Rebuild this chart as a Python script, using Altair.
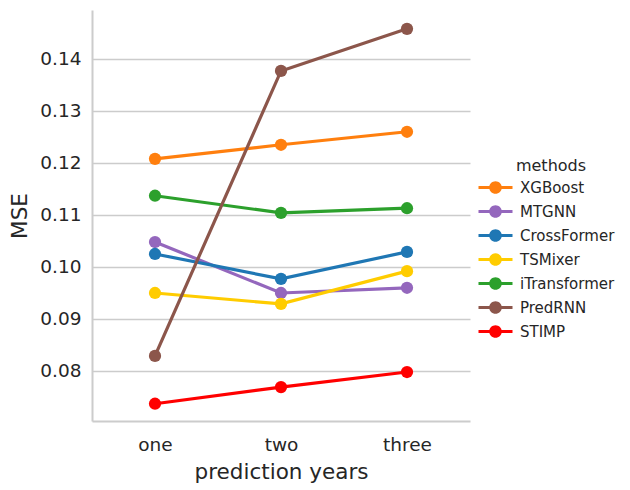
import altair as alt
import pandas as pd

years = ["one", "two", "three"]
methods = ["XGBoost", "MTGNN", "CrossFormer", "TSMixer", "iTransformer", "PredRNN", "STIMP"]
colors = ["#ff7f0e", "#9467bd", "#1f77b4", "#ffcc00", "#2ca02c", "#8c564b", "#ff0000"]

xgboost = [0.1208, 0.1235, 0.1260]
mtgnn = [0.1048, 0.0950, 0.0960]
crossformer = [0.1025, 0.0977, 0.1029]
tsmixer = [0.0950, 0.0929, 0.0992]
itransformer = [0.1137, 0.1104, 0.1113]
predrnn = [0.0829, 0.1377, 0.1458]
stimp = [0.0737, 0.0769, 0.0798]

y_ticks = [0.08, 0.09, 0.10, 0.11, 0.12, 0.13, 0.14]
y_domain = [0.07038, 0.14942]

series = [xgboost, mtgnn, crossformer, tsmixer, itransformer, predrnn, stimp]
rows = []
for m, vals in zip(methods, series):
    for yr, v in zip(years, vals):
        rows.append({"year": yr, "method": m, "mse": v})
df = pd.DataFrame(rows)

FONT = "DejaVu Sans"
TXT = "#262626"
GRID = "#cccccc"

sym_path = ("M-3.4,-0.32L3.4,-0.32L3.4,0.32L-3.4,0.32Z "
            "M-1.26,0A1.26,1.26,0,1,1,1.26,0A1.26,1.26,0,1,1,-1.26,0Z")

legend = alt.Legend(
    title="methods", orient="none", legendX=396, legendY=148,
    symbolType=sym_path, symbolSize=100, symbolStrokeWidth=0, symbolOpacity=1,
    labelFont=FONT, labelFontSize=15, labelColor=TXT, labelOffset=17,
    titleFont=FONT, titleFontSize=16, titleFontWeight="normal", titleColor=TXT,
    titleAnchor="middle", titlePadding=6, rowPadding=8, padding=0,
)

base = alt.Chart(df).encode(
    x=alt.X("year:N", sort=years, scale=alt.Scale(type="point", padding=0.5),
            axis=alt.Axis(title="prediction years", labelAngle=0, ticks=False, grid=False,
                          domainColor=GRID, domainWidth=2, labelPadding=14,
                          labelFont=FONT, labelFontSize=18.5, labelColor=TXT,
                          titleFont=FONT, titleFontSize=21.5, titleFontWeight="normal",
                          titleColor=TXT, titlePadding=8)),
    y=alt.Y("mse:Q", scale=alt.Scale(domain=y_domain, nice=False, zero=False),
            axis=alt.Axis(title="MSE", values=y_ticks, format=".2f", ticks=False, grid=True,
                          gridColor=GRID, gridWidth=1.3, domainColor=GRID, domainWidth=2,
                          labelPadding=11, labelFont=FONT, labelFontSize=18.5, labelColor=TXT,
                          titleFont=FONT, titleFontSize=21.5, titleFontWeight="normal",
                          titleColor=TXT, titlePadding=8)),
    color=alt.Color("method:N", sort=methods,
                    scale=alt.Scale(domain=methods, range=colors), legend=legend),
)

lines = base.mark_line(strokeWidth=3.2)
points = base.mark_point(filled=True, size=150, opacity=1)

chart = alt.layer(lines, points).properties(
    width=378, height=411,
    padding={"left": 92, "top": 10, "right": 160, "bottom": 69},
    autosize=alt.AutoSizeParams(type="none"),
).configure(background="white").configure_view(stroke=None)

chart.save("out.html", embed_options={"renderer": "svg", "actions": False})
